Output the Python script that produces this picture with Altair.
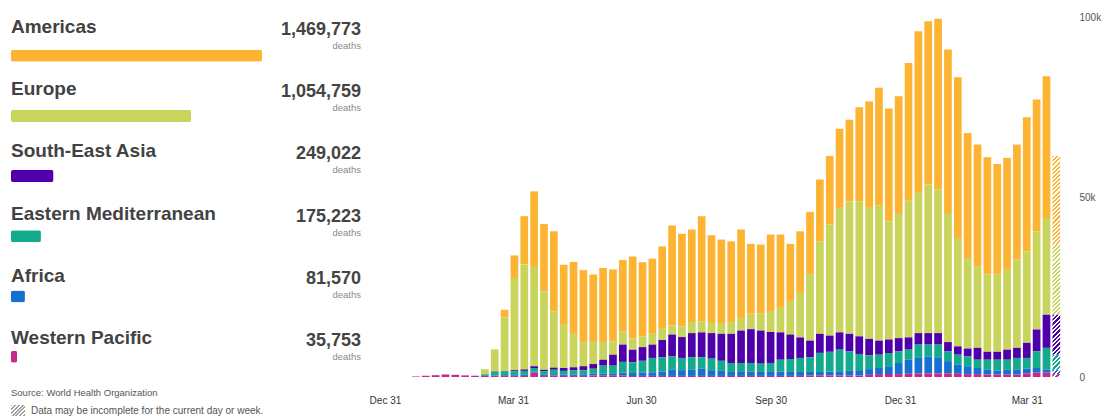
import altair as alt
import pandas as pd

FONT = "Liberation Sans"

# Regions, in legend order, with their colours and cumulative deaths
REGIONS = ["Americas", "Europe", "South-East Asia", "Eastern Mediterranean", "Africa", "Western Pacific"]
COLORS = ["#FDB432", "#C8D45C", "#5000AA", "#14AA8C", "#1670D2", "#C8288C"]
TOTAL_DEATHS = [1469773, 1054759, 249022, 175223, 81570, 35753]

# Weekly deaths per region, in thousands (first week ending late January 2020)
americas_k = [0, 0, 0, 0, 0, 0, 0, 0.05, 0.1, 2.1, 6.3, 13.4, 21.0, 18.7, 22.3, 16.7, 20.0, 20.0, 18.8, 20.6,
              20.0, 19.9, 22.8, 20.6, 20.9, 22.9, 27.8, 25.7, 25.7, 29.2, 24.1, 23.2, 22.4, 24.6, 19.4, 19.2,
              21.5, 20.4, 16.1, 17.1, 17.3, 17.2, 19.0, 22.0, 22.7, 26.2, 29.6, 32.7, 31.3, 32.4, 38.3, 44.9,
              45.4, 47.5, 45.4, 44.7, 34.7, 33.8, 32.6, 30.7, 31.1, 32.0, 37.3, 36.6, 39.4, 24.4]
europe_k = [0, 0, 0, 0, 0, 0, 0.05, 1.4, 6.0, 14.9, 25.6, 29.2, 27.6, 21.8, 15.6, 12.0, 9.3, 6.7, 6.1, 4.9,
            3.7, 3.6, 3.1, 3.0, 3.0, 3.1, 2.5, 3.0, 3.1, 3.1, 3.1, 3.0, 3.3, 3.5, 4.3, 4.7,
            5.6, 6.8, 9.1, 12.4, 18.5, 25.7, 30.9, 34.6, 36.8, 37.5, 36.4, 37.6, 32.9, 34.8, 38.0, 39.0,
            41.3, 39.9, 35.9, 30.1, 25.2, 22.7, 21.5, 21.5, 22.2, 24.5, 25.4, 27.3, 26.9, 19.7]
sea_k = [0, 0, 0, 0, 0, 0, 0, 0, 0.1, 0.2, 0.3, 0.4, 0.5, 0.4, 0.6, 0.8, 0.9, 1.15, 1.3, 1.65,
         3.05, 4.8, 3.5, 3.8, 3.7, 4.8, 6.1, 5.8, 6.7, 6.9, 7.1, 7.5, 8.1, 9.0, 9.4, 9.2,
         8.6, 7.6, 6.8, 5.7, 4.6, 5.3, 4.5, 4.8, 4.9, 4.9, 4.6, 3.9, 3.7, 3.7, 3.4, 3.2,
         3.2, 3.2, 2.6, 2.3, 2.2, 3.3, 2.2, 2.2, 2.8, 2.8, 4.2, 6.1, 9.2, 11.1]
emed_k = [0, 0, 0, 0, 0, 0, 0.05, 0.45, 1.1, 1.0, 1.1, 1.1, 1.0, 1.0, 1.2, 1.0, 1.1, 1.1, 1.4, 2.2,
          2.3, 3.0, 3.0, 3.3, 4.0, 4.0, 3.7, 3.4, 3.5, 3.2, 3.2, 2.8, 2.5, 2.3, 2.4, 2.3,
          2.5, 3.3, 3.6, 3.9, 4.1, 5.3, 5.5, 6.0, 5.4, 4.5, 3.8, 3.7, 3.7, 3.2, 2.8, 3.7,
          3.3, 3.7, 2.7, 2.8, 2.7, 2.3, 2.8, 3.0, 2.8, 3.3, 3.0, 4.6, 6.1, 4.2]
africa_k = [0, 0, 0, 0, 0, 0, 0, 0, 0.1, 0.2, 0.2, 0.3, 0.3, 0.3, 0.4, 0.4, 0.4, 0.45, 0.5, 0.6,
            0.5, 0.85, 0.8, 0.9, 1.0, 1.2, 1.7, 1.6, 1.7, 2.0, 1.6, 1.4, 1.1, 1.3, 1.2, 1.1,
            1.1, 1.2, 1.1, 1.1, 1.0, 1.0, 1.1, 1.2, 1.3, 1.5, 1.6, 1.7, 2.2, 3.1, 3.9, 4.3,
            4.7, 4.3, 3.4, 2.5, 2.2, 1.7, 1.3, 1.1, 1.3, 1.3, 1.3, 1.3, 0.8, 1.2]
wpac_k = [0.15, 0.35, 0.5, 0.7, 0.6, 0.45, 0.3, 0.3, 0.3, 0.3, 0.3, 0.3, 1.2, 0.3, 0.4, 0.3, 0.3, 0.3, 0.4, 0.35,
          0.35, 0.35, 0.3, 0.3, 0.3, 0.3, 0.3, 0.3, 0.3, 0.3, 0.3, 0.3, 0.3, 0.3, 0.3, 0.3,
          0.3, 0.3, 0.3, 0.3, 0.4, 0.4, 0.4, 0.4, 0.4, 0.4, 0.6, 0.8, 0.8, 0.8, 0.9, 1.0,
          1.0, 1.0, 1.0, 0.9, 0.8, 0.8, 0.7, 0.7, 0.7, 0.7, 1.0, 1.2, 1.2, 0.8]

SERIES = [americas_k, europe_k, sea_k, emed_k, africa_k, wpac_k]
# stacking position from the baseline up: Western Pacific first, Americas on top
STACK_POS = [5, 4, 3, 2, 1, 0]

FIRST_WEEK = pd.Timestamp("2020-01-22", tz="UTC")
N_WEEKS = len(americas_k)
weeks = [FIRST_WEEK + pd.Timedelta(days=7 * i) for i in range(N_WEEKS)]

TICK_DATES = ["2019-12-31", "2020-03-31", "2020-06-30", "2020-09-30", "2020-12-31", "2021-03-31"]

# ---------------------------------------------------------------- geometry
LEFT_W, LEFT_H = 375, 416
PLOT_W, PLOT_H = 697, 376
Y_MAX = 104500
PX_PER_DAY = 1.428
BAR_W = 7.7


def ms(ts):
    return int(ts.value // 10**6)


x_start = pd.Timestamp("2019-12-31", tz="UTC") - pd.Timedelta(days=4 / PX_PER_DAY)
x_end = x_start + pd.Timedelta(days=PLOT_W / PX_PER_DAY)
tick_ms = [ms(pd.Timestamp(d, tz="UTC")) for d in TICK_DATES]


def stripes(color, w, h, period=3.0, frac=0.5):
    """Diagonal '/' hatching built from a hard-stop linear gradient."""
    w = max(w, 0.5)
    h = max(h, 0.5)
    n = max(1, int(round((w + h) / (period * 2 ** 0.5))))
    s = (w + h) / (w * w + h * h)
    stops = []
    for k in range(n):
        a, b, c = k / n, (k + frac) / n, (k + 1) / n
        stops += [
            alt.GradientStop(offset=a, color=color),
            alt.GradientStop(offset=b, color=color),
            alt.GradientStop(offset=b, color="#ffffff"),
            alt.GradientStop(offset=c, color="#ffffff"),
        ]
    return alt.LinearGradient(gradient="linear", stops=stops, x1=0, y1=0, x2=w * s, y2=h * s)


# ---------------------------------------------------------------- weekly table
records = []
last = N_WEEKS - 1
for i, wk in enumerate(weeks):
    for region, series, pos in zip(REGIONS, SERIES, STACK_POS):
        records.append({
            "week": wk.strftime("%Y-%m-%d"),
            "region": region,
            "deaths": series[i] * 1000,
            "order": pos,
            "partial": i == last,
        })
weekly = pd.DataFrame(records)

color_scale = alt.Scale(domain=REGIONS, range=COLORS)

x_enc = alt.X(
    "week:T",
    scale=alt.Scale(type="utc", domain=[ms(x_start), ms(x_end)]),
    axis=alt.Axis(values=tick_ms, labelExpr="utcFormat(datum.value, '%b %d')", title=None, grid=False,
                  domain=False, ticks=False, tickSize=0, labelPadding=18, labelFontSize=10,
                  labelColor="#333333", labelFont=FONT),
)
y_enc = alt.Y(
    "y0:Q",
    scale=alt.Scale(domain=[0, Y_MAX], nice=False, zero=True),
    axis=alt.Axis(orient="right", values=[0, 50000, 100000], title=None, grid=False, domain=False,
                  ticks=False, tickSize=0, labelPadding=6, labelFontSize=10, labelColor="#555555",
                  labelFont=FONT,
                  labelExpr="datum.value == 0 ? '0' : format(datum.value / 1000, 'd') + 'k'"),
)

stacked = alt.Chart(weekly).transform_stack(
    stack="deaths",
    groupby=["week"],
    as_=["y0", "y1"],
    sort=[alt.SortField("order", order="ascending")],
)

complete_bars = stacked.transform_filter("!datum.partial").mark_bar(width=BAR_W).encode(
    x=x_enc,
    y=y_enc,
    y2="y1:Q",
    color=alt.Color("region:N", scale=color_scale, legend=None),
)

# the most recent week is still incomplete: hatched segments
hatched = []
for region, series, color in zip(REGIONS, SERIES, COLORS):
    seg_h = series[last] * 1000 * PLOT_H / Y_MAX
    hatched.append(
        stacked.transform_filter(f"datum.partial && datum.region == '{region}'")
        .mark_bar(width=BAR_W, fill=stripes(color, BAR_W, seg_h))
        .encode(x=x_enc, y=y_enc, y2="y1:Q")
    )

right = alt.layer(complete_bars, *hatched).properties(width=PLOT_W, height=PLOT_H)

# ---------------------------------------------------------------- legend panel
legend = pd.DataFrame({"region": REGIONS, "total": TOTAL_DEATHS, "slot": list(range(len(REGIONS)))})
base_l = alt.Chart(legend)
text_y = alt.Y("slot:Q", scale=alt.Scale(domain=[0, 5], range=[32, 343]), axis=None)

names = base_l.mark_text(align="left", baseline="alphabetic", font=FONT, fontSize=19,
                         fontWeight="bold", color="#424242").encode(
    x=alt.value(10), y=text_y, text="region:N")

numbers = base_l.mark_text(align="right", baseline="alphabetic", font=FONT, fontSize=18,
                           fontWeight="bold", color="#444444", dy=2).encode(
    x=alt.value(360), y=text_y, text=alt.Text("total:Q", format=","))

unit = base_l.mark_text(align="right", baseline="alphabetic", font=FONT, fontSize=9.5,
                        color="#8a8a8a", dy=16, text="deaths").encode(
    x=alt.value(360), y=text_y)

total_bars = base_l.mark_bar(orient="horizontal", height=12, cornerRadius=2).encode(
    x=alt.X("total:Q", scale=alt.Scale(domain=[0, max(TOTAL_DEATHS)], range=[10, 261]), axis=None),
    y=alt.Y("slot:Q", scale=alt.Scale(domain=[0, 5], range=[49.7, 360.7]), axis=None),
    color=alt.Color("region:N", scale=color_scale, legend=None),
)

source = alt.Chart(pd.DataFrame({"t": ["Source: World Health Organization"]})).mark_text(
    align="left", baseline="alphabetic", font=FONT, fontSize=9.5, color="#555555").encode(
    x=alt.value(10), y=alt.value(395), text="t:N")

note_box = alt.Chart(pd.DataFrame({"k": [0]})).mark_rect(fill=stripes("#a0a0a0", 14, 12, period=2.6)).encode(
    x=alt.value(10), x2=alt.value(24), y=alt.value(404), y2=alt.value(416))

note = alt.Chart(pd.DataFrame({"t": ["Data may be incomplete for the current day or week."]})).mark_text(
    align="left", baseline="alphabetic", font=FONT, fontSize=10, color="#555555").encode(
    x=alt.value(30), y=alt.value(413), text="t:N")

left = alt.layer(total_bars, names, numbers, unit, source, note_box, note).resolve_scale(
    x="independent", y="independent").properties(width=LEFT_W, height=LEFT_H)

chart = alt.hconcat(left, right, spacing=0, bounds="flush", padding=0).configure(
    font=FONT, view=alt.ViewConfig(stroke="transparent"))

chart.save("out.html", embed_options={"renderer": "svg", "actions": False})
